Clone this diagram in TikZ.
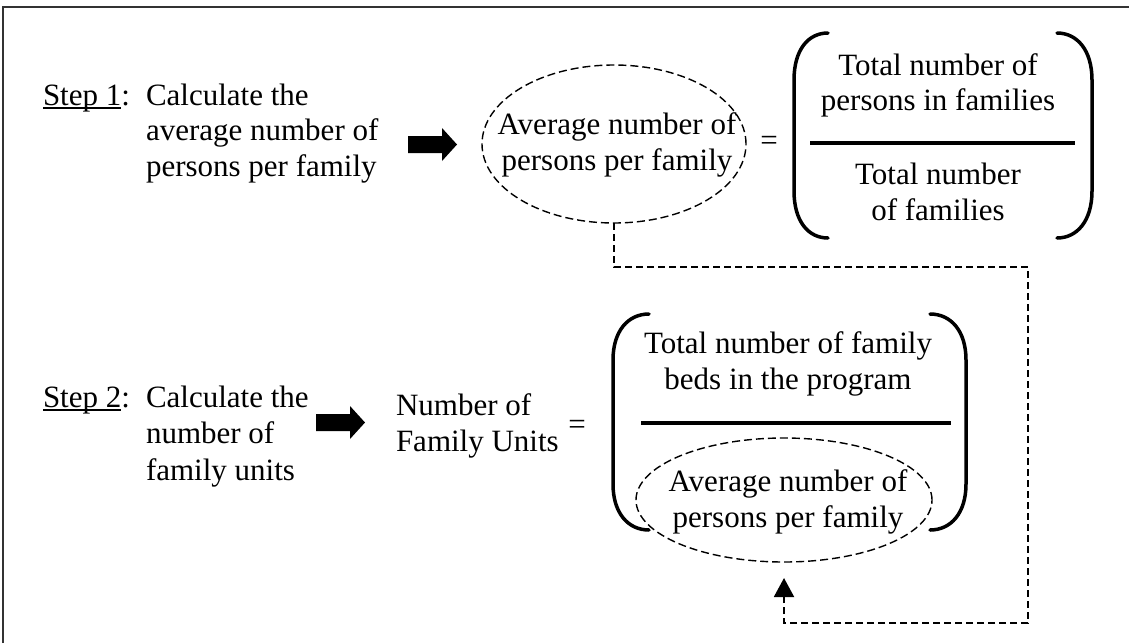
\documentclass[tikz,border=0pt]{standalone}
\usepackage{fontspec}
\setmainfont{Liberation Serif}
\usetikzlibrary{shapes.geometric,arrows.meta}
\newcommand\myul[1]{\setbox0\hbox{#1}\rlap{\rule[-3.6pt]{\wd0}{1.6pt}}\box0}
\begin{document}
\begin{tikzpicture}[x=1pt,y=-1pt,
  every node/.style={font=\fontsize{31}{35.5}\selectfont, inner sep=0pt, outer sep=0pt},
  txt/.style={anchor=base west},
  ctxt/.style={anchor=base},
  oval/.style={ellipse, draw, line width=1.4pt, dash pattern=on 8pt off 4pt},
  paren/.style={line width=3.5pt, line cap=round},
  fracbar/.style={line width=4pt},
  conn/.style={line width=2pt, dash pattern=on 7pt off 4pt, -{Triangle[width=20pt,length=19pt]}},
  blockarrow/.pic={\fill (0,-8.5) -- (34,-8.5) -- (34,-16.5) -- (49,0) -- (34,16.5) -- (34,8.5) -- (0,8.5) -- cycle;}
]
\useasboundingbox (0,0) rectangle (1129,643);
\fill[white] (0,0) rectangle (1129,643);
% frame
\draw[line width=2pt, black!80] (3,643) -- (3,7) -- (1129,7);

% ---- Step 1 ----
\node[txt] (s1) at (43,105) {\myul{Step 1}:};
\node[txt] (s1a) at (146,105) {Calculate the};
\node[txt] (s1b) at (146,140.5) {average number of};
\node[txt] (s1c) at (146,176) {persons per family};
\pic at (408,144.5) {blockarrow};

\node[oval, minimum width=264pt, minimum height=158pt] (e1) at (614,144) {};
\node[align=center] (e1t) at (617,145) {Average number of\\persons per family};
\node (eq1) at (769,143) {=};

\draw[paren] (828,33) .. controls (808,33) and (794,50) .. (794,80) -- (794,191) .. controls (794,221) and (808,238) .. (828,238);
\draw[paren] (1057,33) .. controls (1077,33) and (1092,50) .. (1092,80) -- (1092,191) .. controls (1092,221) and (1077,238) .. (1057,238);
\node[ctxt] (n1a) at (938,75) {Total number of};
\node[ctxt] (n1b) at (938,110) {persons in families};
\draw[fracbar] (810,143) -- (1075,143);
\node[ctxt] (d1a) at (938,184) {Total number};
\node[ctxt] (d1b) at (938,220) {of families};

% ---- Step 2 ----
\node[txt] (s2) at (43,407) {\myul{Step 2}:};
\node[txt] (s2a) at (146,407) {Calculate the};
\node[txt] (s2b) at (146,443.5) {number of};
\node[txt] (s2c) at (146,480) {family units};
\pic at (316,422.5) {blockarrow};

\node[txt] (nf1) at (396,415) {Number of};
\node[txt] (nf2) at (396,451) {Family Units};
\node (eq2) at (577,427) {=};

\draw[paren] (649,314) .. controls (628,314) and (613,331) .. (613,360) -- (613,484) .. controls (613,513) and (628,530) .. (649,530);
\draw[paren] (930,314) .. controls (951,314) and (966,331) .. (966,360) -- (966,484) .. controls (966,513) and (951,530) .. (930,530);
\node[ctxt] (n2a) at (788,353) {Total number of family};
\node[ctxt] (n2b) at (788,389) {beds in the program};
\draw[fracbar] (641,423) -- (951,423);

\node[oval, minimum width=296pt, minimum height=124pt] (e2) at (784,500) {};
\node[align=center] (e2t) at (788,502) {Average number of\\persons per family};

% ---- dashed connector ----
\coordinate (t1) at (1028,267);
\coordinate (t2) at (1028,623);
\draw[conn, shorten >=16pt] (e1.south) |- (t1) -- (t2) -| (e2.south);
\end{tikzpicture}
\end{document}
